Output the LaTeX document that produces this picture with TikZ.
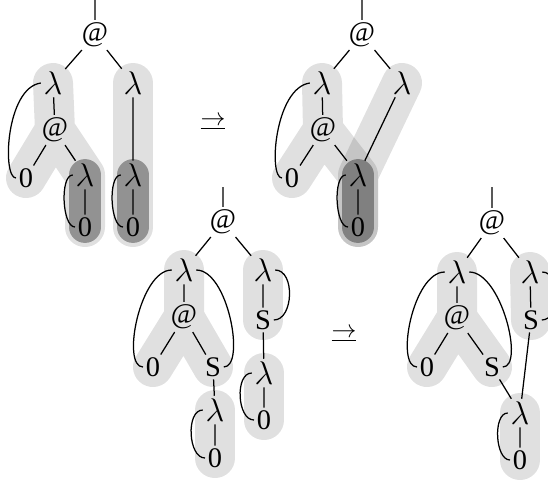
\documentclass[tikz,border=0pt]{standalone}
\usepackage{fontspec}
\setmainfont{Liberation Serif}
\usetikzlibrary{backgrounds}

\tikzset{
  term/.style={inner sep=1pt, font=\fontsize{12.5}{14}\selectfont},
  band/.style={line width=17.6pt, line cap=round, line join=round, draw=black, draw opacity=0.12},
  core/.style={line width=14pt, line cap=round, draw=black, draw opacity=0.35},
  reduces/.style={font=\fontsize{11}{13}\selectfont},
}
\newcommand{\lam}{{\fontsize{14.5}{16}\selectfont$\lambda$}}

\begin{document}
\begin{tikzpicture}[x=0.44pt, y=-0.44pt, line width=0.55pt]
\useasboundingbox (0,0) rectangle (548,482);
% first term
\coordinate (c1) at (95,0);
\node[term](a1) at (95,35) {@};
\node[term](l1) at (53,83) {\lam};
\node[term](r1) at (133,83) {\lam};
\node[term](b1) at (55,130) {@};
\node[term](z1) at (26,178) {0};
\node[term](m1) at (85,175) {\lam};
\node[term](n1) at (85,227) {0};
\node[term](p1) at (133,175) {\lam};
\node[term](q1) at (133,227) {0};
\draw (c1) -- (a1) (a1) -- (l1) (a1) -- (r1) (l1) -- (b1) (b1) -- (z1) (b1) -- (m1)
  (m1) -- (n1) (r1) -- (p1) (p1) -- (q1);
\draw (l1.west) .. controls +(-35,5) and +(-14,0) .. (z1.west);
\draw (m1.west) .. controls +(-13,0) and +(-13,0) .. (n1.west);
\draw (p1.west) .. controls +(-13,0) and +(-13,0) .. (q1.west);
\begin{scope}[on background layer]
\draw[band] (l1.center) -- (b1.center) -- (z1.center) (b1.center) -- (m1.center) -- (n1.center);
\draw[band] (r1.center) -- (p1.center) -- (q1.center);
\draw[core] (m1.center) -- (n1.center);
\draw[core] (p1.center) -- (q1.center);
\end{scope}

\node[reduces](s1) at (213,123) {$\underline{\rightarrow}$};

% second term
\coordinate (c2) at (362,0);
\node[term](a2) at (362,35) {@};
\node[term](l2) at (322,83) {\lam};
\node[term](r2) at (402,83) {\lam};
\node[term](b2) at (323,130) {@};
\node[term](z2) at (292,178) {0};
\node[term](m2) at (358,175) {\lam};
\node[term](n2) at (358,227) {0};
\draw (c2) -- (a2) (a2) -- (l2) (a2) -- (r2) (l2) -- (b2) (b2) -- (z2) (b2) -- (m2)
  (m2) -- (n2) (r2) -- (m2);
\draw (l2.west) .. controls +(-35,5) and +(-14,0) .. (z2.west);
\draw (m2.west) .. controls +(-13,0) and +(-13,0) .. (n2.west);
\begin{scope}[on background layer]
\draw[band] (l2.center) -- (b2.center) -- (z2.center) (b2.center) -- (m2.center) -- (n2.center);
\draw[band] (r2.center) -- (m2.center) -- (n2.center);
\draw[core] (m2.center) -- (n2.center);
\end{scope}

% third term
\coordinate (c3) at (223,187);
\node[term](a3) at (223,222) {@};
\node[term](l3) at (184,270) {\lam};
\node[term](r3) at (263,270) {\lam};
\node[term](b3) at (184,317) {@};
\node[term](z3) at (153,367) {0};
\node[term](s3) at (213,367) {S};
\node[term](m3) at (215,410) {\lam};
\node[term](n3) at (215,458) {0};
\node[term](t3) at (263,320) {S};
\node[term](u3) at (264,373) {\lam};
\node[term](v3) at (264,420) {0};
\draw (c3) -- (a3) (a3) -- (l3) (a3) -- (r3) (l3) -- (b3) (b3) -- (z3) (b3) -- (s3)
  (s3) -- (m3) (m3) -- (n3) (r3) -- (t3) (t3) -- (u3) (u3) -- (v3);
\draw (l3.west) .. controls +(-32,0) and +(-22,0) .. (z3.west);
\draw (l3.east) .. controls +(32,0) and +(22,0) .. (s3.east);
\draw (r3.east) .. controls +(20,0) and +(20,0) .. (t3.east);
\draw (m3.west) .. controls +(-17,0) and +(-17,0) .. (n3.west);
\draw (u3.west) .. controls +(-17,0) and +(-17,0) .. (v3.west);
\begin{scope}[on background layer]
\draw[band] (l3.center) -- (b3.center) -- (z3.center) (b3.center) -- (s3.center);
\draw[band] (m3.center) -- (n3.center);
\draw[band] (r3.center) -- (t3.center);
\draw[band] (u3.center) -- (v3.center);
\end{scope}

\node[reduces](s2) at (344,335) {$\underline{\rightarrow}$};

% fourth term
\coordinate (c4) at (492,187);
\node[term](a4) at (492,223) {@};
\node[term](l4) at (457,272) {\lam};
\node[term](r4) at (530,272) {\lam};
\node[term](b4) at (457,318) {@};
\node[term](z4) at (427,367) {0};
\node[term](s4) at (492,367) {S};
\node[term](m4) at (520,413) {\lam};
\node[term](n4) at (520,460) {0};
\node[term](t4) at (531,320) {S};
\draw (c4) -- (a4) (a4) -- (l4) (a4) -- (r4) (l4) -- (b4) (b4) -- (z4) (b4) -- (s4)
  (s4) -- (m4) (m4) -- (n4) (r4) -- (t4) (t4) -- (m4);
\draw (l4.west) .. controls +(-32,0) and +(-22,0) .. (z4.west);
\draw (l4.east) .. controls +(32,0) and +(22,0) .. (s4.east);
\draw (r4.east) .. controls +(19,0) and +(19,0) .. (t4.east);
\draw (m4.west) .. controls +(-15,0) and +(-15,0) .. (n4.west);
\begin{scope}[on background layer]
\draw[band] (l4.center) -- (b4.center) -- (z4.center) (b4.center) -- (s4.center);
\draw[band] (r4.center) -- (t4.center);
\draw[band] (m4.center) -- (n4.center);
\end{scope}
\end{tikzpicture}
\end{document}
